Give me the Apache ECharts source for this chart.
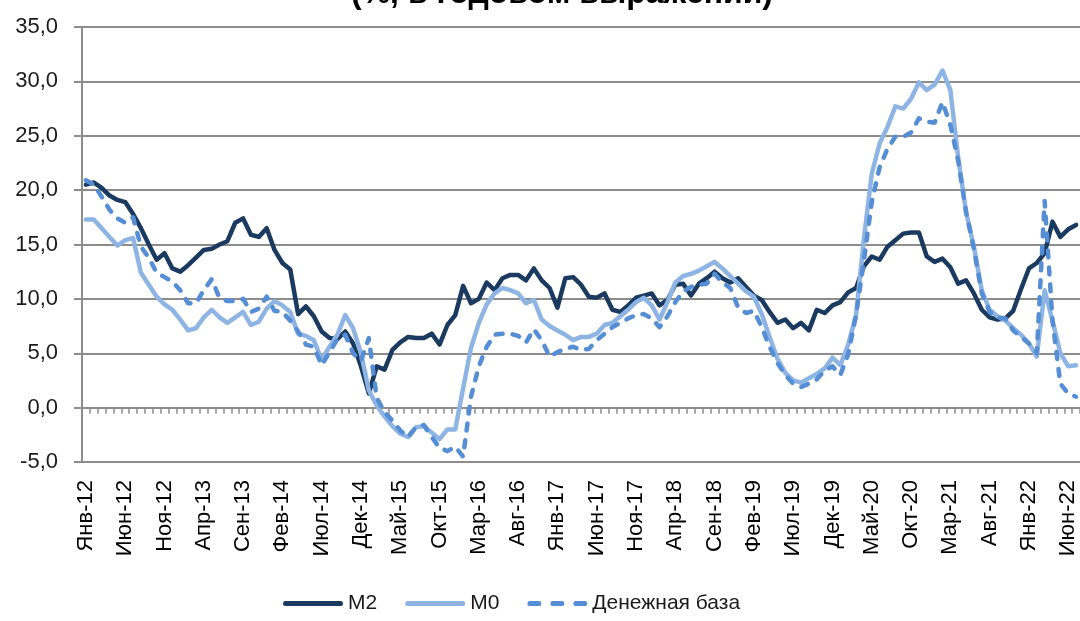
<!DOCTYPE html>
<html>
<head>
<meta charset="utf-8">
<title>Денежные агрегаты</title>
<script src="https://cdn.jsdelivr.net/npm/echarts@6/dist/echarts.min.js"></script>
<style>
    html, body { margin: 0; padding: 0; background: #fff; }
    #chart { width: 1080px; height: 621px; }
</style>
</head>
<body>
<div id="chart"></div>
<script>
// подписи оси X: Янв-12 ... Июл-22
var monthNames = ['Янв', 'Фев', 'Мар', 'Апр', 'Май', 'Июн', 'Июл', 'Авг', 'Сен', 'Окт', 'Ноя', 'Дек'];
var years = ['12', '13', '14', '15', '16', '17', '18', '19', '20', '21', '22'];
var lastMonthCount = 7; // 2022 год - до июля

// шкала Y
var yMin = -5, yMax = 35, yStep = 5;

// темпы прироста, % г/г
var m2 = [20.5, 20.7, 20.2, 19.5, 19.1, 18.9, 17.8, 16.5, 15.0, 13.6, 14.2, 12.8,
    12.5, 13.1, 13.8, 14.5, 14.6, 15.0, 15.3, 17.0, 17.4, 15.9, 15.7, 16.5,
    14.5, 13.3, 12.7, 8.6, 9.3, 8.4, 7.0, 6.4, 6.3, 7.0, 5.9, 3.8,
    1.3, 3.8, 3.5, 5.3, 6.0, 6.5, 6.4, 6.4, 6.8, 5.8, 7.6, 8.5,
    11.2, 9.6, 10.0, 11.5, 10.8, 11.9, 12.2, 12.2, 11.7, 12.8, 11.7, 11.0,
    9.2, 11.9, 12.0, 11.3, 10.2, 10.1, 10.5, 9.0, 8.8, 9.4, 10.1, 10.3,
    10.5, 9.4, 9.9, 11.3, 11.4, 10.3, 11.4, 11.9, 12.5, 11.9, 11.5, 11.9,
    11.1, 10.3, 9.9, 8.8, 7.8, 8.1, 7.3, 7.8, 7.1, 9.0, 8.7, 9.4,
    9.7, 10.6, 11.0, 13.0, 13.9, 13.6, 14.8, 15.4, 16.0, 16.1, 16.1, 13.9,
    13.4, 13.7, 12.9, 11.4, 11.7, 10.5, 9.0, 8.3, 8.1, 8.2, 8.9, 10.9,
    12.8, 13.3, 14.2, 17.1, 15.7, 16.4, 16.8];

var m0 = [17.3, 17.3, 16.5, 15.7, 14.9, 15.4, 15.6, 12.4, 11.3, 10.2, 9.5, 9.0,
    8.1, 7.1, 7.3, 8.3, 9.0, 8.3, 7.8, 8.3, 8.8, 7.6, 7.9, 9.1,
    9.8, 9.4, 8.8, 6.8, 6.6, 6.2, 4.4, 5.6, 6.7, 8.5, 7.3, 5.0,
    1.6, 0.2, -0.8, -1.7, -2.4, -2.7, -1.8, -1.7, -2.3, -2.9, -2.0, -2.0,
    1.8, 5.5, 7.8, 9.5, 10.5, 11.0, 10.8, 10.5, 9.6, 9.9, 8.1, 7.5,
    7.1, 6.7, 6.2, 6.5, 6.5, 6.8, 7.6, 7.8, 8.4, 9.0, 9.7, 10.1,
    9.4, 8.1, 9.7, 11.5, 12.1, 12.3, 12.6, 13.0, 13.4, 12.8, 12.1, 11.4,
    10.7, 10.2, 8.6, 6.5, 4.5, 3.2, 2.5, 2.3, 2.7, 3.1, 3.6, 4.6,
    3.9, 5.8, 8.5, 15.5, 21.5, 24.3, 25.8, 27.7, 27.5, 28.4, 29.9, 29.2,
    29.7, 31.0, 29.2, 23.0, 18.0, 14.8, 10.8, 9.0, 8.4, 8.0, 7.3, 6.7,
    5.9, 4.7, 10.8, 8.0, 5.0, 3.8, 3.9];

var baseMoney = [20.9, 20.5, 19.4, 18.2, 17.4, 17.0, 17.5, 14.8, 13.8, 12.4, 12.0, 11.6,
    10.8, 9.6, 9.6, 10.8, 11.8, 10.1, 9.8, 9.8, 10.0, 8.8, 9.1, 10.2,
    8.9, 8.8, 8.0, 7.0, 5.8, 5.6, 3.9, 5.1, 6.3, 6.7, 5.0, 4.3,
    6.4, 0.9, -0.4, -1.2, -2.1, -2.7, -1.8, -1.6, -2.7, -3.7, -4.0, -3.6,
    -4.5, 1.0, 3.8, 5.6, 6.7, 6.8, 6.8, 6.6, 6.0, 7.2, 6.2, 4.7,
    5.1, 5.4, 5.6, 5.3, 5.4, 6.2, 6.8, 7.4, 7.8, 8.2, 8.5, 8.6,
    8.2, 7.4, 8.4, 9.7, 10.7, 11.1, 11.3, 11.4, 12.3, 11.5, 11.0, 9.2,
    8.7, 8.9, 7.4, 5.6, 4.1, 3.0, 2.2, 1.9, 2.2, 2.6, 3.4, 3.8,
    3.0, 4.9, 8.5, 13.5, 18.9, 22.1, 23.8, 24.9, 24.9, 25.3, 26.6, 26.3,
    26.2, 28.1, 26.0, 22.7, 18.0, 14.6, 10.5, 8.8, 8.3, 8.2, 7.1, 6.5,
    5.9, 5.0, 19.0, 8.0, 2.2, 1.3, 1.0];

var seriesNames = ['М2', 'М0', 'Денежная база'];
var seriesColors = ['#1b3a60', '#8db4e2', '#558ed5'];

var categories = [];
for (var y = 0; y < years.length; y++) {
    var n = (y == years.length - 1) ? lastMonthCount : 12;
    for (var m = 0; m < n; m++) {
        categories.push(monthNames[m] + '-' + years[y]);
    }
}

var fontName = '"Liberation Sans", Arial, sans-serif';
var gridColor = '#8c8c8c';

// значки легенды: сплошная линия и пунктир
var solidIcon = 'path://M2,0 L58,0 Q60,0 60,2.5 Q60,5 58,5 L2,5 Q0,5 0,2.5 Q0,0 2,0 Z';
var dashIcon = 'path://M2,0 L12,0 Q14,0 14,2.5 Q14,5 12,5 L2,5 Q0,5 0,2.5 Q0,0 2,0 Z' +
    ' M25,0 L35,0 Q37,0 37,2.5 Q37,5 35,5 L25,5 Q23,5 23,2.5 Q23,0 25,0 Z' +
    ' M48,0 L58,0 Q60,0 60,2.5 Q60,5 58,5 L48,5 Q46,5 46,2.5 Q46,0 48,0 Z';

var myChart = echarts.init(document.getElementById('chart'));

var options = {
    backgroundColor: '#fff',
    animation: false,
    graphic: [{
        type: 'text',
        x: 562,
        y: -6,
        style: {
            text: '(%, в годовом выражении)',
            font: 'bold 32px ' + fontName,
            fill: '#000',
            align: 'center',
            verticalAlign: 'middle'
        }
    }],
    legend: {
        left: 278,
        top: 588,
        itemWidth: 60,
        itemHeight: 5,
        itemGap: 28,
        textStyle: { fontFamily: fontName, fontSize: 21, color: '#1a1a1a' },
        data: [
            { name: seriesNames[0], icon: solidIcon },
            { name: seriesNames[1], icon: solidIcon },
            { name: seriesNames[2], icon: dashIcon }
        ]
    },
    grid: {
        left: 82,
        right: 0,
        top: 27,
        bottom: 159,
        containLabel: false
    },
    xAxis: [{
        type: 'category',
        boundaryGap: true,
        data: categories,
        position: 'bottom',
        axisLine: { show: false, onZero: false },
        axisTick: { show: false },
        axisLabel: {
            interval: 4,
            rotate: 90,
            margin: 18,
            fontFamily: fontName,
            fontSize: 22,
            color: '#000'
        },
        splitLine: { show: false }
    }, {
        type: 'category',
        boundaryGap: true,
        data: categories,
        position: 'bottom',
        axisLine: { show: true, onZero: true, lineStyle: { color: gridColor, width: 2 } },
        axisTick: { show: true, interval: 0, length: 6, lineStyle: { color: gridColor, width: 1.5 } },
        axisLabel: { show: false },
        splitLine: { show: false }
    }],
    yAxis: {
        type: 'value',
        min: yMin,
        max: yMax,
        interval: yStep,
        axisLine: { show: true, lineStyle: { color: gridColor, width: 2 } },
        axisTick: { show: true, length: 8, lineStyle: { color: gridColor, width: 2 } },
        axisLabel: {
            margin: 24,
            fontFamily: fontName,
            fontSize: 22,
            color: '#1a1a1a',
            formatter: function (v) { return v.toFixed(1).replace('.', ','); }
        },
        splitLine: { show: true, lineStyle: { color: gridColor, width: 2 } }
    },
    series: [{
        name: seriesNames[0],
        type: 'line',
        data: m2,
        symbol: 'none',
        lineStyle: { width: 4.5, color: seriesColors[0], join: 'round', cap: 'round' },
        itemStyle: { color: seriesColors[0] }
    }, {
        name: seriesNames[1],
        type: 'line',
        data: m0,
        symbol: 'none',
        lineStyle: { width: 4.5, color: seriesColors[1], join: 'round', cap: 'round' },
        itemStyle: { color: seriesColors[1] }
    }, {
        name: seriesNames[2],
        type: 'line',
        data: baseMoney,
        symbol: 'none',
        lineStyle: { width: 4.5, color: seriesColors[2], type: [7, 10], join: 'round', cap: 'round' },
        itemStyle: { color: seriesColors[2] }
    }]
};

myChart.setOption(options);
</script>
</body>
</html>
